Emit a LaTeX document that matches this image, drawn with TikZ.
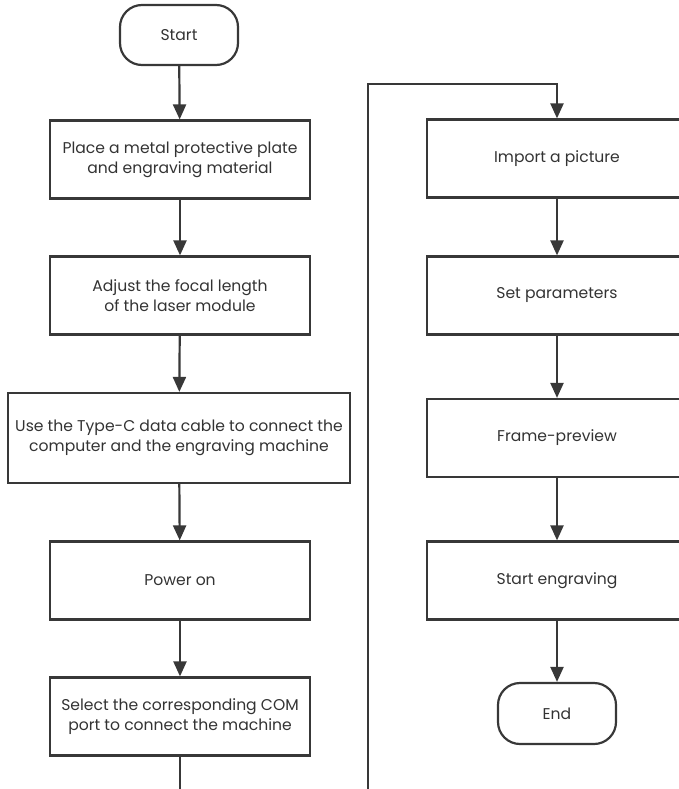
\documentclass[tikz,border=0pt]{standalone}
\usepackage{fontspec}
\setmainfont{Poppins}
\usetikzlibrary{arrows.meta}

\definecolor{linegray}{HTML}{383838}
\definecolor{textgray}{HTML}{333333}

\tikzset{
    stepbox/.style={draw=linegray, line width=2.2pt, minimum width=260pt,
        minimum height=78pt, align=center, text=textgray,
        font=\fontsize{15.6}{20.5}\selectfont},
    terminal/.style={stepbox, rounded corners=22pt, minimum width=118pt,
        minimum height=60pt},
    flow/.style={draw=linegray, line width=2.2pt,
        -{Triangle[width=13pt,length=15pt]}},
}

\begin{document}
\begin{tikzpicture}[x=1pt, y=-1pt]
    \useasboundingbox (0,0) rectangle (679,789);
    \clip (0,0) rectangle (679,789);
    %left column
    \node[terminal] (start) at (179, 35) {Start};
    \node[stepbox] (plate) at (180, 159.5) %
         {Place a metal protective plate\\and engraving material};
    \node[stepbox] (focal) at (180, 295.5) %
         {Adjust the focal length\\of the laser module};
    \node[stepbox, minimum width=342pt, minimum height=90pt] (cable) at (179, 438) %
         {Use the Type-C data cable to connect the\\computer and the engraving machine};
    \node[stepbox] (power) at (180, 580.5) {Power on};
    \node[stepbox] (port) at (180, 716.5) %
         {Select the corresponding COM\\port to connect the machine};
    %right column
    \node[stepbox] (import) at (557, 158.5) {Import a picture};
    \node[stepbox] (params) at (557, 295.5) {Set parameters};
    \node[stepbox] (frame) at (557, 438) {Frame-preview};
    \node[stepbox] (engrave) at (557, 580.5) {Start engraving};
    \node[terminal, minimum height=61pt] (end) at (557, 713.5) {End};
    %arrows
    \draw[flow] (start) -- (plate);
    \draw[flow] (plate) -- (focal);
    \draw[flow] (focal) -- (cable);
    \draw[flow] (cable) -- (power);
    \draw[flow] (power) -- (port);
    \draw[flow] (import) -- (params);
    \draw[flow] (params) -- (frame);
    \draw[flow] (frame) -- (engrave);
    \draw[flow] (engrave) -- (end);
    %loop between the columns
    \coordinate (under) at (368, 830);
    \coordinate (turn) at (368, 84);
    \draw[flow] (port.south) |- (under) -- (turn) -| (import.north);
\end{tikzpicture}
\end{document}
